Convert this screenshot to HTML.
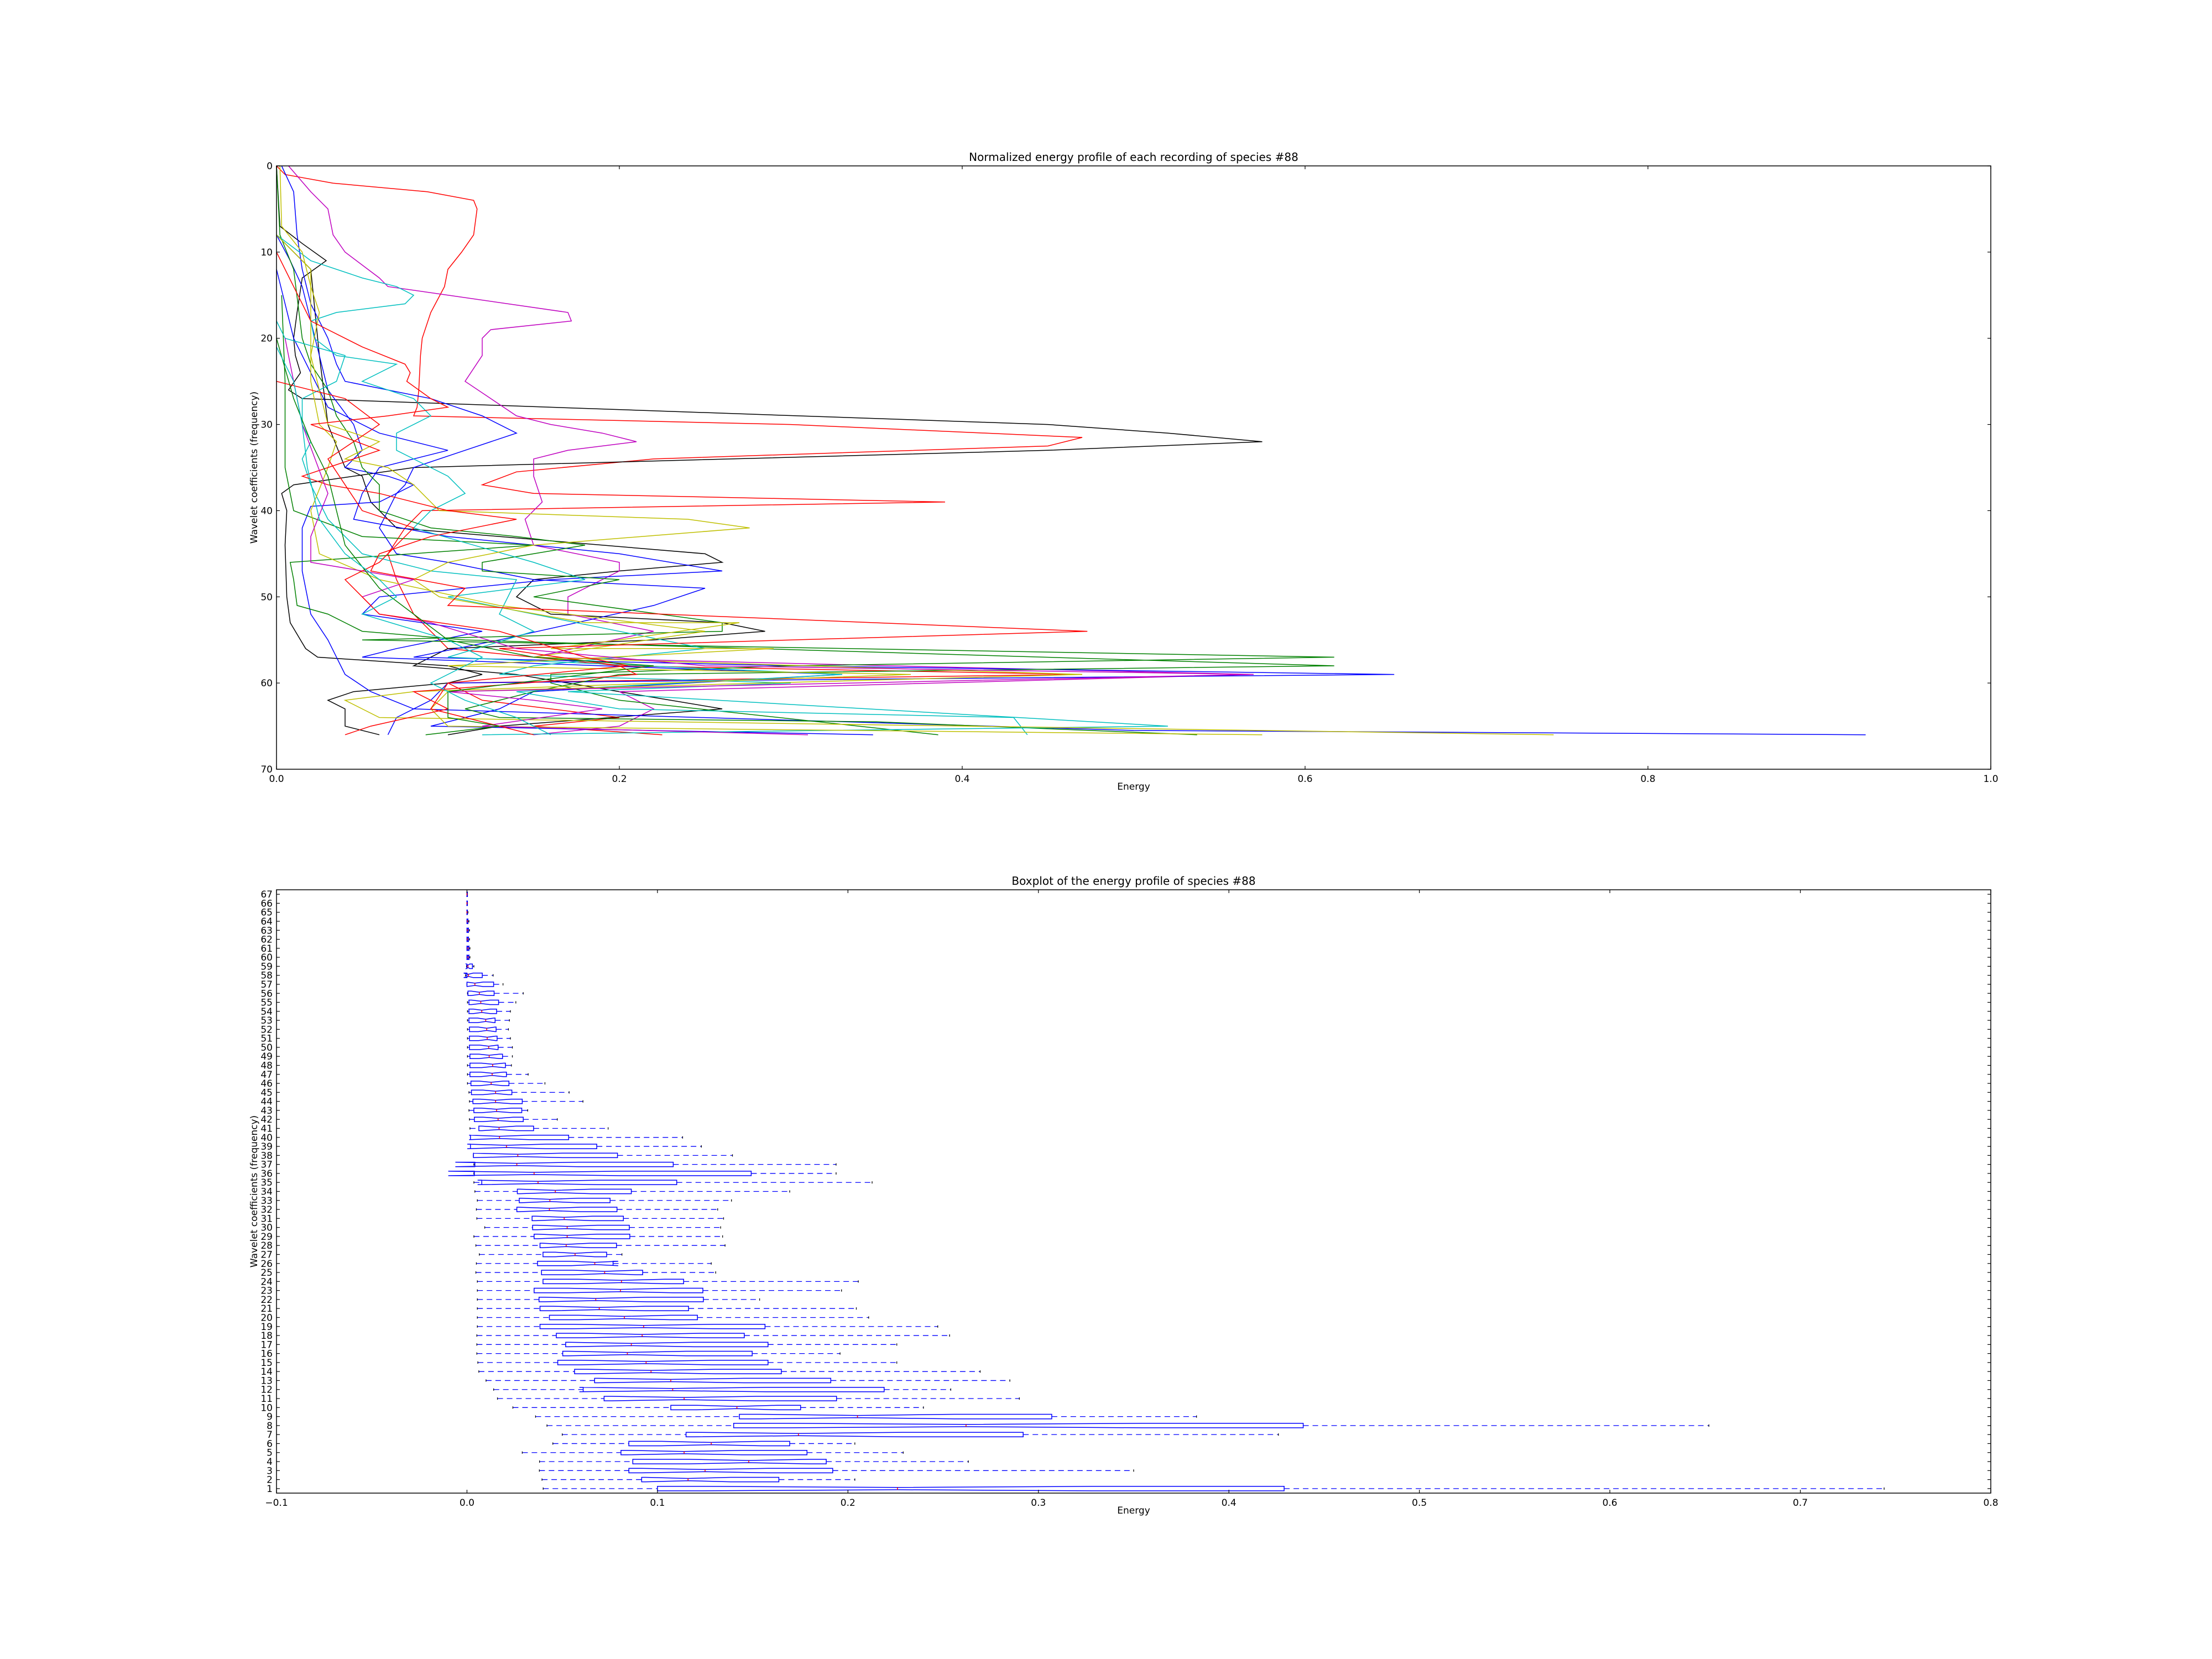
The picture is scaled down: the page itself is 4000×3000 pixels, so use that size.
<!DOCTYPE html>
<html><head><meta charset="utf-8">
<style>
html,body{margin:0;padding:0;background:#fff;}
svg{display:block;}
text{font-family:"DejaVu Sans","Liberation Sans",sans-serif;fill:#000;}
</style></head>
<body>
<svg id="s" width="4000" height="3000" xmlns="http://www.w3.org/2000/svg"></svg>
<script>
const S=document.getElementById('s');let h='';
function ln(x1,y1,x2,y2,c,w,d){h+=`<line x1="${x1.toFixed(2)}" y1="${y1.toFixed(2)}" x2="${x2.toFixed(2)}" y2="${y2.toFixed(2)}" stroke="${c}" stroke-width="${w}"${d?` stroke-dasharray="${d}"`:''}/>`;}
function tx(x,y,s,a,fs,extra){h+=`<text x="${x}" y="${y}" font-size="${fs||17}" text-anchor="${a||'middle'}" ${extra||''}>${s}</text>`;}
// ---------- TOP ----------
const L=500,R=3600,T1=300,B1=1391;
const X1=v=>L+v*(R-L), Y1=v=>T1+v*(B1-T1)/70;
const C={b:'#0000ff',g:'#008000',r:'#ff0000',c:'#00bfbf',m:'#bf00bf',y:'#bfbf00',k:'#000000'};
const series=[
['r',[[0,0],[0.005,1],[0.033,2],[0.088,3],[0.115,4],[0.117,5],[0.115,8],[0.108,10],[0.1,12],[0.098,14],[0.09,17],[0.085,20],[0.084,22],[0.083,26],[0.082,28],[0.08,29],[0.3,30],[0.47,31.5],[0.45,32.5],[0.22,34],[0.14,35.5],[0.12,37],[0.15,38],[0.39,39],[0.085,40],[0.075,42],[0.065,45],[0.07,48],[0.075,50],[0.08,52],[0.09,54],[0.1,56],[0.2,58],[0.47,59],[0.1,60],[0.12,62],[0.2,64],[0.15,65],[0.225,66]]],
['k',[[0,0],[0.002,7],[0.015,9],[0.029,11],[0.015,13],[0.012,17],[0.01,20],[0.011,22],[0.014,24],[0.007,26],[0.015,27],[0.45,30],[0.52,31],[0.575,32],[0.45,33],[0.08,35],[0.01,37],[0.003,38],[0.006,40],[0.005,44],[0.006,50],[0.008,53],[0.014,55],[0.017,56],[0.024,57],[0.1,58],[0.12,59],[0.1,60],[0.045,61],[0.03,62],[0.04,63],[0.04,65],[0.06,66]]],
['k',[[0,8],[0.02,12],[0.025,22],[0.03,30],[0.04,35],[0.05,36],[0.055,39],[0.07,42],[0.25,45],[0.26,46],[0.2,47],[0.15,48],[0.14,50],[0.16,52],[0.26,53],[0.285,54],[0.22,55],[0.1,56],[0.08,58],[0.14,59],[0.2,61],[0.26,63],[0.13,65],[0.1,66]]],
['m',[[0.007,0],[0.02,3],[0.03,5],[0.033,8],[0.04,10],[0.06,13],[0.065,14],[0.1,15],[0.17,17],[0.172,18],[0.125,19],[0.12,20],[0.12,22],[0.11,25],[0.125,27],[0.14,29],[0.16,30],[0.19,31],[0.21,32],[0.17,33],[0.15,34],[0.15,36],[0.155,39],[0.145,41],[0.15,44],[0.2,46],[0.2,47],[0.19,48],[0.17,50],[0.17,52],[0.22,54],[0.15,57],[0.57,59],[0.2,61],[0.22,63],[0.2,65],[0.15,66]]],
['b',[[0.003,0],[0.01,3],[0.012,8],[0.015,12],[0.02,16],[0.03,20],[0.035,23],[0.04,25],[0.09,27],[0.12,29],[0.14,31],[0.11,33],[0.08,35],[0.075,37],[0.07,38],[0.065,40],[0.06,42],[0.07,45],[0.1,46],[0.15,48],[0.25,49],[0.22,51],[0.13,55],[0.08,57],[0.3,58],[0.652,59],[0.1,60],[0.09,62],[0.07,64],[0.065,66]]],
['b',[[0,8],[0.008,11],[0.015,14],[0.02,18],[0.025,22],[0.03,26],[0.045,30],[0.05,33],[0.04,35],[0.065,36],[0.08,37],[0.06,39],[0.02,39.5],[0.015,42],[0.015,47],[0.02,52],[0.03,55],[0.035,57],[0.04,59],[0.055,61],[0.08,63],[0.5,65.5],[0.927,66]]],
['b',[[0,12],[0.01,20],[0.03,28],[0.06,31],[0.1,33],[0.06,35],[0.05,38],[0.045,41],[0.1,43],[0.2,45],[0.26,47],[0.16,48],[0.06,50],[0.05,52],[0.12,54],[0.07,56],[0.05,57],[0.33,59],[0.15,61],[0.13,63],[0.09,65],[0.348,66]]],
['g',[[0,0],[0.002,8],[0.01,12],[0.015,20],[0.02,23],[0.03,26],[0.035,29],[0.045,32],[0.05,35],[0.06,37],[0.06,40],[0.09,42],[0.14,43],[0.18,44],[0.12,46],[0.12,47],[0.2,48],[0.15,50],[0.26,53],[0.26,54],[0.05,55],[0.617,57],[0.3,58],[0.16,59],[0.16,60],[0.2,62],[0.386,66]]],
['g',[[0.003,15],[0.005,25],[0.005,35],[0.01,40],[0.05,43],[0.15,44],[0.008,46],[0.01,48],[0.012,51],[0.03,52],[0.05,54],[0.11,55],[0.617,58],[0.2,59],[0.15,61],[0.11,63],[0.13,64],[0.35,64.5],[0.537,66]]],
['c',[[0,8],[0.02,11],[0.05,13],[0.07,14],[0.08,15],[0.075,16],[0.035,17],[0.02,18],[0.022,20],[0.035,22],[0.07,23],[0.05,25],[0.08,27],[0.09,29],[0.07,31],[0.07,33],[0.1,36],[0.11,38],[0.09,40],[0.08,42],[0.15,46],[0.18,48],[0.1,50],[0.15,52],[0.25,56],[0.15,58],[0.13,59],[0.3,60],[0.17,61],[0.52,65],[0.12,66]]],
['c',[[0,18],[0.005,20],[0.04,22],[0.035,25],[0.015,27],[0.015,30],[0.02,32],[0.015,34],[0.02,37],[0.03,41],[0.04,43],[0.05,45],[0.09,47],[0.14,48],[0.13,52],[0.15,54],[0.1,57],[0.33,59],[0.14,61],[0.2,63],[0.43,64],[0.438,66]]],
['y',[[0.002,0],[0.003,7],[0.015,10],[0.02,14],[0.025,17],[0.02,22],[0.025,26],[0.03,30],[0.045,31],[0.06,32],[0.04,34],[0.065,35],[0.08,37],[0.095,40],[0.24,41],[0.276,42],[0.15,44],[0.1,46],[0.08,48],[0.095,50],[0.18,53],[0.27,53],[0.2,55],[0.16,56],[0.29,56],[0.1,58],[0.37,59],[0.08,61],[0.04,62],[0.06,64],[0.745,66]]],
['y',[[0,8],[0.02,12],[0.02,25],[0.025,30],[0.035,32],[0.03,35],[0.02,40],[0.025,45],[0.06,48],[0.13,51],[0.25,54],[0.15,57],[0.47,59],[0.1,61],[0.09,63],[0.1,65],[0.575,66]]],
['r',[[0,10],[0.02,18],[0.05,21],[0.075,23],[0.078,24],[0.076,25],[0.09,27],[0.1,28],[0.065,29],[0.02,30],[0.06,33],[0.03,35],[0.015,36],[0.03,37],[0.06,38],[0.1,40],[0.14,41],[0.09,43],[0.06,45],[0.055,47],[0.11,49],[0.1,51],[0.473,54],[0.13,56],[0.2,58],[0.21,59],[0.08,61],[0.1,63],[0.055,65],[0.04,66]]],
['m',[[0.005,20],[0.015,30],[0.03,38],[0.02,43],[0.02,46],[0.08,48],[0.05,50],[0.06,52],[0.09,53],[0.14,56],[0.25,58],[0.57,59],[0.1,61],[0.15,62],[0.19,63],[0.12,65],[0.31,66]]],
['r',[[0,25],[0.04,27],[0.06,30],[0.045,32],[0.03,34],[0.04,37],[0.05,40],[0.08,42],[0.06,46],[0.04,48],[0.05,50],[0.06,52],[0.13,54],[0.18,57],[0.205,58],[0.1,60],[0.09,63],[0.13,65],[0.15,66]]],
['g',[[0,20],[0.01,27],[0.02,32],[0.03,36],[0.035,40],[0.04,44],[0.06,49],[0.08,52],[0.1,55],[0.15,57],[0.22,58],[0.1,61],[0.1,64],[0.13,65],[0.087,66]]],
['c',[[0,21],[0.01,25],[0.015,30],[0.018,35],[0.025,41],[0.04,45],[0.06,48],[0.07,50],[0.05,52],[0.1,55],[0.12,57],[0.09,60],[0.11,62],[0.14,64],[0.16,66]]]
];
for(const [c,p] of series){h+=`<polyline fill="none" stroke="${C[c]}" stroke-width="1.5" stroke-linejoin="miter" points="${p.map(q=>X1(q[0]).toFixed(1)+','+Y1(q[1]).toFixed(1)).join(' ')}"/>`;}
h+=`<rect x="${L}" y="${T1}" width="${R-L}" height="${B1-T1}" fill="none" stroke="#000" stroke-width="1.5"/>`;
for(let i=0;i<=5;i++){const v=i*0.2,x=X1(v);ln(x,B1,x,B1-6,'#000',1.2);ln(x,T1,x,T1+6,'#000',1.2);tx(x,B1+23,v.toFixed(1));}
for(let i=0;i<=7;i++){const y=Y1(i*10);ln(L,y,L+6,y,'#000',1.2);ln(R,y,R-6,y,'#000',1.2);tx(L-7,y+6,i*10,'end');}
tx(2050,T1-9,'Normalized energy profile of each recording of species #88','middle',20);
tx(2050,B1+37,'Energy');
tx(0,0,'Wavelet coefficients (frequency)','middle',17,`transform="translate(465,${(T1+B1)/2}) rotate(-90)"`);
// ---------- BOTTOM ----------
const T2=1609,B2=2700;
const X2=v=>L+(v+0.1)*(R-L)/0.9, Y2=k=>B2-(k-0.5)*(B2-T2)/67;
const o=x=>(x-497)/3860;
const D={
1:[0.04,0.1,0.226,0.429,0.744],3:[0.038,0.085,0.125,0.192,0.35],7:[0.05,0.115,0.174,0.292,0.426],8:[0.042,0.14,0.262,0.439,0.652],9:[0.036,0.143,0.205,0.307,0.383],11:[0.016,0.072,0.114,0.194,0.29],12:[0.014,0.061,0.108,0.219,0.254],13:[0.01,0.067,0.107,0.191,0.285]};
const Rw={2:[649,851,945,1129,1283],4:[644,833,1068,1225,1513],5:[609,809,937,1186,1381],6:[671,825,992,1151,1283],10:[590,910,1044,1173,1422],14:[521,715,870,1134,1537],15:[519,681,860,1107,1368],16:[517,691,822,1075,1253],17:[517,697,830,1107,1368],18:[517,678,852,1059,1475],19:[518,645,855,1101,1451],20:[518,664,816,964,1311],21:[518,645,765,946,1286],22:[518,643,758,976,1090],23:[518,633,808,975,1256],24:[518,651,810,936,1290],25:[515,648,776,853,1001],26:[516,640,756,793,992],27:[522,651,716,780,811],28:[515,645,698,800,1020],29:[511,633,700,827,1015],30:[533,630,700,826,1011],31:[517,629,694,814,1017],32:[516,598,664,801,1005],33:[518,603,665,787,1033],34:[513,599,676,830,1151],35:[511,527,641,922,1318],36:[511,512,633,1073,1245],37:[511,513,598,915,1245],38:[510,510,600,802,1035],39:[504,504,577,760,972],40:[504,504,563,703,934],41:[503,521,562,632,783],42:[502,512,560,611,680],43:[501,511,557,608,620],44:[502,509,555,609,732],45:[501,506,555,588,704],46:[498,505,546,582,655],47:[498,503,548,577,621],48:[498,503,549,575,587],49:[498,503,542,569,589],50:[498,502,541,560,589],51:[498,502,538,558,585],52:[498,502,537,556,581],53:[498,501,535,554,583],54:[498,501,527,557,585],55:[498,501,525,561,596],56:[498,499,522,552,611],57:[497,497,513,551,570],58:[494,497,500,528,550],59:[496,497,499,508,511],60:[497,497,499,501,503],61:[497,497,499,501,503],62:[497,497,498,500,502],63:[497,497,498,500,502],64:[497,497,498,499,501],65:[497,497,497,498,499],66:[497,497,497,498,498],67:[497,497,497,498,498]};
for(const k in Rw)D[k]=Rw[k].map(o);
const rh=(B2-T2)/67, w=0.5*rh;
for(let k=1;k<=67;k++){const [lo,q1,md,q3,hi]=D[k];const y=Y2(k);
 const iq=q3-q1, nm=md-0.31*iq, nx=md+0.31*iq;
 ln(X2(lo),y,X2(q1),y,'#0000ff',1.3,'10,7');ln(X2(q3),y,X2(hi),y,'#0000ff',1.3,'10,7');
 ln(X2(lo),y-w/4,X2(lo),y+w/4,'#000',1.3);ln(X2(hi),y-w/4,X2(hi),y+w/4,'#000',1.3);
 const pts=[[q1,y-w/2],[nm,y-w/2],[md,y-w/4],[nx,y-w/2],[q3,y-w/2],[q3,y+w/2],[nx,y+w/2],[md,y+w/4],[nm,y+w/2],[q1,y+w/2]];
 h+=`<polygon fill="none" stroke="#0000ff" stroke-width="1.5" points="${pts.map(p=>X2(p[0]).toFixed(1)+','+p[1].toFixed(1)).join(' ')}"/>`;
 ln(X2(md),y-w/4,X2(md),y+w/4,'#ff0000',1.5);
}
h+=`<rect x="${L}" y="${T2}" width="${R-L}" height="${B2-T2}" fill="none" stroke="#000" stroke-width="1.5"/>`;
for(let i=0;i<=9;i++){const v=-0.1+i*0.1,x=X2(v);ln(x,B2,x,B2-6,'#000',1.2);ln(x,T2,x,T2+6,'#000',1.2);tx(x,B2+23,(v<-0.001?'\u22120.1':Math.abs(v).toFixed(1)));}
for(let k=1;k<=67;k++){const y=Y2(k);ln(L,y,L+6,y,'#000',1.2);ln(R,y,R-6,y,'#000',1.2);tx(L-7,y+6,k,'end');}
tx(2050,T2-9,'Boxplot of the energy profile of species #88','middle',20);
tx(2050,B2+37,'Energy');
tx(0,0,'Wavelet coefficients (frequency)','middle',17,`transform="translate(465,${(T2+B2)/2}) rotate(-90)"`);
S.innerHTML=h;
</script>
</body></html>
